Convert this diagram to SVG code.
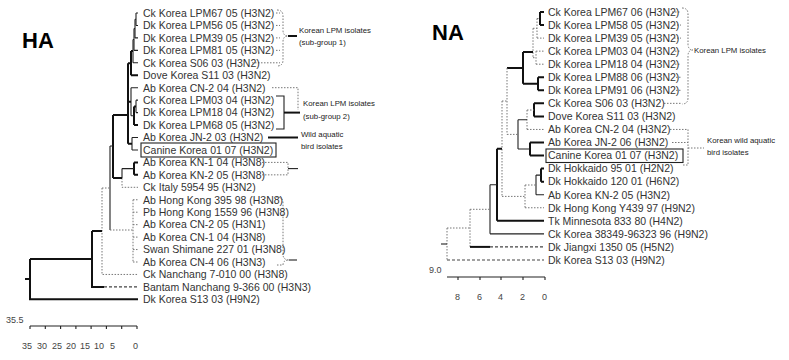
<svg xmlns="http://www.w3.org/2000/svg" width="789" height="360" viewBox="0 0 789 360">
<style>
text{font-family:"Liberation Sans",Arial,sans-serif;fill:#333}
.lb{font-size:10.5px}
.an{font-size:7.8px;fill:#222}
.ttl{font-size:22px;font-weight:bold;fill:#000}
.ax{font-size:9px;fill:#444}
.s{fill:none;stroke:#222;stroke-width:1.1}
.t{fill:none;stroke:#111;stroke-width:2}
.d{fill:none;stroke:#777;stroke-width:1;stroke-dasharray:1.5 1.5}
.dd{fill:none;stroke:#444;stroke-width:1.1;stroke-dasharray:3 2}
.box{fill:none;stroke:#222;stroke-width:1.1}
</style>
<rect width="789" height="360" fill="#fff"/>
<g id="titles">
<text class="ttl" x="22" y="48">HA</text>
<text class="ttl" x="432" y="40">NA</text>
</g>
<g id="connectors">
<!-- HA tree -->
<path class="s" d="M136,13H138M136,25.45H138M136,13V25.45"/>
<path class="s" d="M135,19.2H136M135,37.9H138M135,19.2V37.9"/>
<path class="s" d="M134,28.6H135M134,50.35H138M134,28.6V50.35"/>
<path class="s" d="M133,39.5H134M133,62.8H138M133,39.5V62.8"/>
<path class="t" d="M131,51.1H133M131,75.25H138M131,51.1V75.25"/>
<path class="s" d="M136,100.15H138M136,112.6H138M136,100.15V112.6"/>
<path class="t" d="M134,106.4H136M134,125.05H138M134,106.4V125.05"/>
<path class="s" d="M131,87.7H138M131,115.7H134M131,87.7V115.7"/>
<path class="s" d="M132,137.5H138M132,149.95H138M132,137.5V149.95"/>
<path class="t" d="M128,63.2H131M128,101.7H131M128,143.7H132M128,63.2V143.7"/>
<path class="t" d="M134,162.4H138M134,174.85H138M134,162.4V174.85"/>
<path class="s" d="M122,168.6H134M122,168.6V178"/>
<path class="d" d="M122,178V187.3H138"/>
<path class="t" d="M113,115H128M113,178H122M113,115V178"/>
<path class="d" d="M133,199.75H138M133,212.2H138M133,224.65H138M133,237.1H138M133,249.55H138M133,262H138M133,199.75V262"/>
<path class="s" d="M110,146H113M110,146V230"/>
<path class="d" d="M110,230H133"/>
<path class="d" d="M102,188H110M102,188V274.45H138"/>
<path class="t" d="M92,231H102M92,231V286.9H104"/>
<path class="dd" d="M104,286.9H138"/>
<path class="t" d="M30,259H92M30,259V299.35H138M25,279H30"/>
<!-- HA annotations -->
<path class="d" d="M276,13H280M276,25.45H280M276,37.9H280M276,50.35H280M252,62.8H280"/>
<path class="d" d="M277,10Q283,10 283,16V30Q283,36 288,36Q283,36 283,42V60Q283,66 277,66"/>
<path class="t" d="M288,36H297"/>
<path class="d" d="M272,87.7H298V110"/>
<path class="s" d="M276,96H284V129H276"/>
<path class="t" d="M284,112.6H300"/>
<path class="t" d="M268,137.5H298"/>
<path class="d" d="M262,162.4H288V174.85H262"/>
<path class="s" d="M288,168.6H298"/>
<path class="d" d="M276,197Q283,197 283,203V254Q283,260 289,260Q283,260 283,265H276"/>
<path class="s" d="M289,260H297"/>
<!-- HA axis -->
<path class="s" d="M30,326H137M30,326V329M45.3,326V329M60.6,326V329M75.9,326V329M91.1,326V329M106.4,326V329M121.7,326V329M137,326V329"/>
<!-- NA tree -->
<path class="t" d="M540,12H544M540,25.05H544M540,12V25.05"/>
<path class="d" d="M537,18.5H540M537,38.1H544M537,18.5V38.1"/>
<path class="d" d="M536,51.15H544M536,64.2H544M536,51.15V64.2"/>
<path class="d" d="M533,28.3H537M533,57.7H536M533,28.3V57.7"/>
<path class="t" d="M538,77.25H544M538,90.3H544M538,77.25V90.3"/>
<path class="t" d="M523,52H533M523,83.8H538M523,52V83.8"/>
<path class="t" d="M534,103.35H544M534,116.4H544M534,103.35V116.4"/>
<path class="d" d="M527,110H534M527,129.45H544M527,110V129.45"/>
<path class="t" d="M530,142.5H544M530,155.55H544M530,142.5V155.55"/>
<path class="s" d="M518,119.7H527M518,149H530M518,119.7V149"/>
<path class="t" d="M507,68H523"/>
<path class="d" d="M507,134.4H518M507,68V134.4"/>
<path class="t" d="M541,168.6H544M541,181.65H544M541,168.6V181.65"/>
<path class="s" d="M536,175.1H541M536,194.7H544M536,175.1V194.7"/>
<path class="d" d="M525,185H536M525,207.75H544M525,185V207.75"/>
<path class="d" d="M502,101H507M502,196.4H525M502,101V196.4"/>
<path class="t" d="M497,148.7H502M497,220.8H544M497,148.7V220.8"/>
<path class="s" d="M490,184.8H497M490,233.85H544M490,184.8V233.85"/>
<path class="d" d="M470,209.3H490M470,209.3V246.9"/>
<path class="t" d="M470,246.9H490"/>
<path class="dd" d="M490,246.9H544"/>
<path class="d" d="M447,228H470M447,228V259.95"/>
<path class="dd" d="M447,259.95H544"/>
<path class="s" d="M441,244H447"/>
<!-- NA annotations -->
<path class="d" d="M672,12H681M674,25.05H681M674,38.1H681M675,51.15H681M675,64.2H681M676,77.25H681M676,90.3H681M664,103.35H681"/>
<path class="d" d="M682,8Q688,8 688,14V44Q688,50 693,50Q688,50 688,56V98Q688,104 682,104"/>
<path class="d" d="M670,129.45H688M672,142.5H688M688,129.45V165H682"/>
<path class="d" d="M688,148H704"/>
<!-- NA axis -->
<path class="s" d="M447,277H545M458,277V280M480,277V280M501,277V280M523,277V280M545,277V280"/>
</g>
<g id="ha-labels" class="lb">
<text x="143" y="16.8">Ck Korea LPM67 05 (H3N2)</text>
<text x="143" y="29.25">Dk Korea LPM56 05 (H3N2)</text>
<text x="143" y="41.7">Dk Korea LPM39 05 (H3N2)</text>
<text x="143" y="54.15">Dk Korea LPM81 05 (H3N2)</text>
<text x="143" y="66.6">Ck Korea S06 03 (H3N2)</text>
<text x="143" y="79.05">Dove Korea S11 03 (H3N2)</text>
<text x="143" y="91.5">Ab Korea CN-2 04 (H3N2)</text>
<text x="143" y="103.95">Ck Korea LPM03 04 (H3N2)</text>
<text x="143" y="116.4">Dk Korea LPM18 04 (H3N2)</text>
<text x="143" y="128.85">Dk Korea LPM68 05 (H3N2)</text>
<text x="143" y="141.3">Ab Korea JN-2 03 (H3N2)</text>
<g id="ha-canine"><rect class="box" x="141" y="143" width="135" height="14"/><text x="143" y="153.75">Canine Korea 01 07 (H3N2)</text></g>
<text x="143" y="166.2">Ab Korea KN-1 04 (H3N8)</text>
<text x="143" y="178.65">Ab Korea KN-2 05 (H3N8)</text>
<text x="143" y="191.1">Ck Italy 5954 95 (H3N2)</text>
<text x="143" y="203.55">Ab Hong Kong 395 98 (H3N8)</text>
<text x="143" y="216">Pb Hong Kong 1559 96 (H3N8)</text>
<text x="143" y="228.45">Ab Korea CN-2 05 (H3N1)</text>
<text x="143" y="240.9">Ab Korea CN-1 04 (H3N8)</text>
<text x="143" y="253.35">Swan Shimane 227 01 (H3N8)</text>
<text x="143" y="265.8">Ab Korea CN-4 06 (H3N3)</text>
<text x="143" y="278.25">Ck Nanchang 7-010 00 (H3N8)</text>
<text x="143" y="290.7">Bantam Nanchang 9-366 00 (H3N3)</text>
<text x="143" y="303.15">Dk Korea S13 03 (H9N2)</text>
</g>
<g id="ha-annotations">
<text class="an" x="299" y="33">Korean LPM isolates</text>
<text class="an" x="299" y="45">(sub-group 1)</text>
<text class="an" x="303" y="106">Korean LPM isolates</text>
<text class="an" x="303" y="119">(sub-group 2)</text>
<text class="an" x="301" y="137">Wild aquatic</text>
<text class="an" x="301" y="149">bird isolates</text>
</g>
<g id="ha-axis">
<text class="ax" x="6" y="323">35.5</text>
<text class="ax" x="22" y="349">35</text>
<text class="ax" x="37" y="349">30</text>
<text class="ax" x="52" y="349">25</text>
<text class="ax" x="66" y="349">20</text>
<text class="ax" x="80" y="349">15</text>
<text class="ax" x="94" y="349">10</text>
<text class="ax" x="110" y="349">5</text>
<text class="ax" x="133" y="349">0</text>
</g>
<g id="na-labels" class="lb">
<text x="548" y="15.8">Ck Korea LPM67 06 (H3N2)</text>
<text x="548" y="28.85">Dk Korea LPM58 05 (H3N2)</text>
<text x="548" y="41.9">Dk Korea LPM39 05 (H3N2)</text>
<text x="548" y="54.95">Ck Korea LPM03 04 (H3N2)</text>
<text x="548" y="68">Dk Korea LPM18 04 (H3N2)</text>
<text x="548" y="81.05">Dk Korea LPM88 06 (H3N2)</text>
<text x="548" y="94.1">Dk Korea LPM91 06 (H3N2)</text>
<text x="548" y="107.15">Ck Korea S06 03 (H3N2)</text>
<text x="548" y="120.2">Dove Korea S11 03 (H3N2)</text>
<text x="548" y="133.25">Ab Korea CN-2 04 (H3N2)</text>
<text x="548" y="146.3">Ab Korea JN-2 06 (H3N2)</text>
<g id="na-canine"><rect class="box" x="546" y="149" width="137" height="13.5"/><text x="548" y="159.35">Canine Korea 01 07 (H3N2)</text></g>
<text x="548" y="172.4">Dk Hokkaido 95 01 (H2N2)</text>
<text x="548" y="185.45">Dk Hokkaido 120 01 (H6N2)</text>
<text x="548" y="198.5">Ab Korea KN-2 05 (H3N2)</text>
<text x="548" y="211.55">Dk Hong Kong Y439 97 (H9N2)</text>
<text x="548" y="224.6">Tk Minnesota 833 80 (H4N2)</text>
<text x="548" y="237.65">Ck Korea 38349-96323 96 (H9N2)</text>
<text x="548" y="250.7">Dk Jiangxi 1350 05 (H5N2)</text>
<text x="548" y="263.75">Dk Korea S13 03 (H9N2)</text>
</g>
<g id="na-annotations">
<text class="an" x="694" y="53">Korean LPM isolates</text>
<text class="an" x="707" y="143">Korean wild aquatic</text>
<text class="an" x="707" y="155">bird isolates</text>
</g>
<g id="na-axis">
<text class="ax" x="429" y="273">9.0</text>
<text class="ax" x="455" y="300">8</text>
<text class="ax" x="477" y="300">6</text>
<text class="ax" x="498" y="300">4</text>
<text class="ax" x="520" y="300">2</text>
<text class="ax" x="542" y="300">0</text>
</g>
</svg>
